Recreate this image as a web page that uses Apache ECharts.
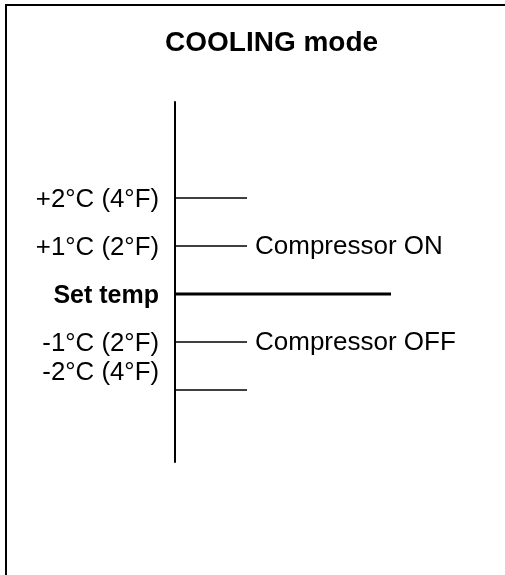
<!DOCTYPE html>
<html>
<head>
<meta charset="utf-8">
<script src="https://cdn.jsdelivr.net/npm/echarts@6/dist/echarts.min.js"></script>
<style>
  html, body { margin: 0; padding: 0; background: #ffffff; }
  #chart { width: 505px; height: 575px; }
</style>
</head>
<body>
<div id="chart"></div>
<script>
// Threshold levels relative to the set temperature (°C)
const levels = [2, 1, 0, -1, -2];
const levelLabels = ['+2°C (4°F)', '+1°C (2°F)', 'Set temp', '-1°C (2°F)', '-2°C (4°F)'];
const lineLengths = [3, 3, 9, 3, 3];
const stateLabels = ['', 'Compressor ON', '', 'Compressor OFF', ''];

const FONT = '"Liberation Sans", Arial, Helvetica, sans-serif';
const chart = echarts.init(document.getElementById('chart'), null, { renderer: 'canvas' });

const lineSeries = levels.map((lv, i) => ({
  type: 'line',
  silent: true,
  symbol: 'none',
  animation: false,
  lineStyle: { color: '#000000', width: lv === 0 ? 3 : 1.5 },
  data: [[0, lv], [lineLengths[i], lv]]
}));

const leftLabelSeries = {
  type: 'scatter',
  silent: true,
  symbolSize: 0,
  animation: false,
  itemStyle: { opacity: 1, color: '#000000' },
  data: levels.map((lv, i) => {
    const isSet = lv === 0;
    return {
      value: [0, lv],
      label: {
        show: true,
        position: 'left',
        distance: 16,
        formatter: levelLabels[i],
        color: '#000000',
        opacity: 1,
        fontFamily: FONT,
        fontSize: isSet ? 25 : 25.8,
        fontWeight: isSet ? 'bold' : 'normal',
        offset: lv === -2 ? [0, -17] : [0, 2]
      }
    };
  })
};

const rightLabelSeries = {
  type: 'scatter',
  silent: true,
  symbolSize: 0,
  animation: false,
  itemStyle: { opacity: 1, color: '#000000' },
  data: levels.map((lv, i) => ({ value: [lineLengths[i], lv], name: stateLabels[i] }))
    .filter(d => d.name !== ''),
  label: {
    show: true,
    position: 'right',
    distance: 8,
    formatter: p => p.name,
    color: '#000000',
    opacity: 1,
    fontFamily: FONT,
    fontSize: 26,
    offset: [0, 1]
  }
};

chart.setOption({
  backgroundColor: '#ffffff',
  animation: false,
  title: {
    text: 'COOLING mode',
    left: 160,
    top: 24,
    textStyle: { fontFamily: FONT, fontSize: 28, fontWeight: 'bold', color: '#000000' }
  },
  graphic: [
    {
      type: 'polyline',
      shape: { points: [[6, 575], [6, 5], [505, 5]] },
      style: { stroke: '#000000', lineWidth: 2, fill: null }
    }
  ],
  grid: { left: 175, top: 102, width: 240, height: 360 },
  xAxis: {
    type: 'value', min: 0, max: 10, show: false
  },
  yAxis: {
    type: 'value', min: -3.5, max: 4,
    axisLine: { show: true, onZero: false, lineStyle: { color: '#000000', width: 2 } },
    axisTick: { show: false },
    axisLabel: { show: false },
    splitLine: { show: false }
  },
  series: lineSeries.concat([leftLabelSeries, rightLabelSeries])
});
</script>
</body>
</html>
